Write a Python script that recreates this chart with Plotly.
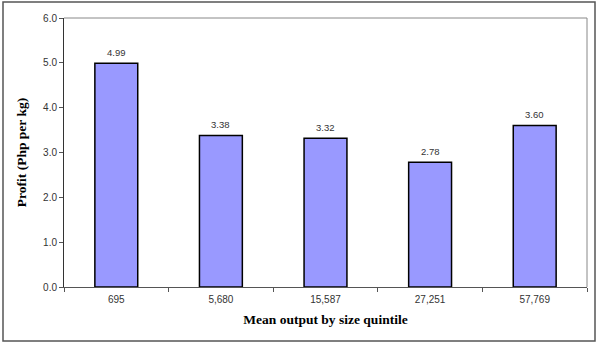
import plotly.graph_objects as go

categories = ["695", "5,680", "15,587", "27,251", "57,769"]
profit = [4.99, 3.38, 3.32, 2.78, 3.60]
labels = ["4.99", "3.38", "3.32", "2.78", "3.60"]
y_ticks = [0, 1, 2, 3, 4, 5, 6]
y_tick_text = ["0.0", "1.0", "2.0", "3.0", "4.0", "5.0", "6.0"]

L, R, T, B = 64, 12, 18, 57
W, H = 599, 344
pw, ph = W - L - R, H - T - B

fig = go.Figure(go.Bar(
    x=categories, y=profit,
    marker=dict(color="#9999FF", line=dict(color="#000000", width=1.5)),
))

for i, (v, t) in enumerate(zip(profit, labels)):
    fig.add_annotation(x=i, y=v, text=t, showarrow=False, yshift=11, yanchor="middle",
                       font=dict(family="Liberation Sans, Arial", size=9.5, color="#333333"))

fig.update_layout(
    width=W, height=H, margin=dict(l=L, r=R, t=T, b=B),
    paper_bgcolor="white", plot_bgcolor="white",
    bargap=0.59, showlegend=False,
    xaxis=dict(
        type="category", tickson="boundaries", ticks="outside", ticklen=4,
        ticklabelstandoff=3,
        tickcolor="#555555", showline=True, linecolor="#555555", linewidth=1,
        tickfont=dict(family="Liberation Sans, Arial", size=10, color="#333333"),
        title=dict(text="<b>Mean output by size quintile</b>", standoff=10,
                   font=dict(family="Liberation Serif, Times New Roman", size=13.5, color="#000000")),
    ),
    yaxis=dict(
        range=[0, 6], tickvals=y_ticks, ticktext=y_tick_text, ticks="outside", ticklen=4,
        tickcolor="#555555", showline=True, linecolor="#333333", linewidth=1,
        showgrid=False, zeroline=False,
        tickfont=dict(family="Liberation Sans, Arial", size=10, color="#333333"),
        title=dict(text="<b>Profit (Php per kg)</b>", standoff=13,
                   font=dict(family="Liberation Serif, Times New Roman", size=13.5, color="#000000")),
    ),
    shapes=[
        dict(type="line", xref="paper", yref="paper", x0=0, x1=1, y0=1, y1=1,
             line=dict(color="#888888", width=1)),
        dict(type="line", xref="paper", yref="paper", x0=1, x1=1, y0=0, y1=1,
             line=dict(color="#888888", width=1)),
        dict(type="rect", xref="paper", yref="paper",
             x0=(3 - L) / pw, x1=(595 - L) / pw,
             y0=(T + ph - 341) / ph, y1=(T + ph - 2) / ph,
             line=dict(color="#555555", width=1.5)),
    ],
)

fig.write_html("out.html")
